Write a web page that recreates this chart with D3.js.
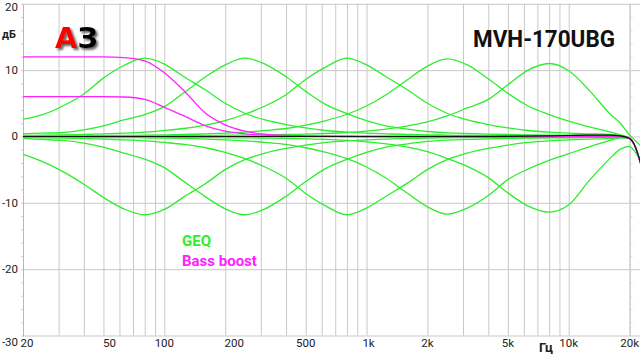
<!DOCTYPE html>
<html><head><meta charset="utf-8">
<script src="https://cdn.jsdelivr.net/npm/d3@7"></script>
<style>html,body{margin:0;padding:0;background:#fff;overflow:hidden}</style>
</head><body>
<script>
// ---------- DATA ----------
const freqs = [20,25,31.5,40,50,63,80,100,125,160,200,250,315,400,500,630,800,1000,1250,1600,2000,2500,3150,4000,5000,6300,8000,10000,12500,16000,18000,20000,21000,22000,22700];

const geqFlat = [0,0,0,0,0,0,0,0,0,0,0,0,0,0,0,0,0,0,0,0,0,0,0,0,0.02,0.05,0.1,0.15,0.2,0.2,0.1,-0.3,-1.1,-2.7,-4.1];
const eq80Boost  = [2.6,3.3,4.6,6.4,8.8,10.7,11.8,10.9,9.0,7.0,5.0,3.5,2.5,1.8,1.3,0.9,0.65,0.5,0.4,0.3,0.25,0.2,0.15,0.15,0.1,0.1,0.1,0.1,0.15,0.15,0.1,-0.3,-1.1,-2.7,-4.1];
const eq80Cut    = [-2.7,-3.8,-5.3,-7.2,-9.2,-10.9,-11.8,-11.0,-9.1,-7.1,-5.0,-3.5,-2.5,-1.8,-1.3,-0.9,-0.65,-0.5,-0.4,-0.3,-0.25,-0.2,-0.15,-0.15,-0.1,-0.1,-0.1,-0.1,-0.05,0,0,-0.3,-1.1,-2.7,-4.1];
const eq250Boost = [0.4,0.5,0.6,1.0,1.6,2.5,3.3,4.5,6.6,9.0,10.8,11.8,10.9,9.0,6.8,4.8,3.45,2.4,1.6,1.1,0.75,0.55,0.45,0.35,0.3,0.25,0.2,0.2,0.2,0.2,0.1,-0.3,-1.1,-2.7,-4.1];
const eq250Cut   = [-0.3,-0.45,-0.6,-1.0,-1.6,-2.5,-3.4,-4.7,-6.8,-9.1,-10.9,-11.8,-10.9,-9.0,-6.8,-4.8,-3.45,-2.4,-1.6,-1.1,-0.75,-0.55,-0.45,-0.35,-0.3,-0.25,-0.2,-0.2,-0.15,-0.1,-0.05,-0.3,-1.1,-2.7,-4.1];
const eq800Boost = [0.15,0.2,0.25,0.3,0.4,0.5,0.65,0.9,1.2,1.7,2.4,3.35,4.6,6.3,8.6,10.5,11.8,10.8,9.0,7.0,5.0,3.5,2.5,1.8,1.3,0.9,0.65,0.5,0.4,0.3,0.15,-0.3,-1.1,-2.7,-4.1];
const eq800Cut   = [-0.15,-0.2,-0.25,-0.3,-0.4,-0.5,-0.65,-0.9,-1.2,-1.7,-2.4,-3.35,-4.6,-6.3,-8.6,-10.5,-11.8,-10.8,-9.0,-7.0,-5.0,-3.5,-2.5,-1.8,-1.3,-0.9,-0.65,-0.5,-0.4,-0.3,-0.15,-0.3,-1.1,-2.7,-4.1];
const eq2500Boost = [0.1,0.1,0.1,0.1,0.15,0.15,0.2,0.25,0.3,0.4,0.5,0.65,0.9,1.2,1.7,2.4,3.35,4.6,6.3,8.6,10.6,11.7,10.8,8.7,6.5,4.6,3.3,2.3,1.5,0.7,0.25,-0.2,-1.1,-2.7,-4.1];
const eq2500Cut   = [-0.1,-0.1,-0.1,-0.1,-0.15,-0.15,-0.2,-0.25,-0.3,-0.4,-0.5,-0.65,-0.9,-1.2,-1.7,-2.4,-3.35,-4.6,-6.3,-8.6,-10.6,-11.7,-10.8,-8.9,-6.5,-4.9,-3.6,-2.6,-1.6,-0.6,-0.2,-0.3,-1.1,-2.7,-4.1];
const eq8000Boost = [0.05,0.05,0.05,0.05,0.1,0.1,0.1,0.1,0.15,0.15,0.2,0.2,0.25,0.3,0.35,0.45,0.6,0.8,1.1,1.6,2.2,3.1,4.3,5.6,7.8,10.0,11.0,9.9,7.1,3.4,2.0,0.2,-0.4,-1.0,-1.4];
const eq8000Cut   = [-0.05,-0.05,-0.05,-0.05,-0.1,-0.1,-0.1,-0.1,-0.15,-0.15,-0.2,-0.2,-0.25,-0.3,-0.35,-0.45,-0.6,-0.8,-1.1,-1.6,-2.3,-3.3,-4.5,-6.2,-8.5,-10.5,-11.4,-10.3,-6.8,-3.3,-1.9,-1.5,-2.1,-3.0,-4.0];
const bassBoost12 = [12.0,12.0,12.0,12.0,12.0,11.9,11.4,9.6,6.9,3.5,1.75,0.8,0.35,0.15,0.1,0.05,0.05,0,0,0,0,0,0,0,0,0,0,0,0,0,0,-0.3,-1.1,-2.7,-4.1];
const bassBoost6  = [6.0,6.0,6.0,6.0,6.0,5.95,5.6,4.4,3.1,1.6,0.8,0.4,0.2,0.1,0.05,0.05,0,0,0,0,0,0,0,0,0,0,0,0,0,0,0,-0.3,-1.1,-2.7,-4.1];
const reference   = [0,0,0,0,0,0,0,0,0,0,0,0,0,0,0,0,0,0,0,0,0,0,0,0,0.02,0.05,0.1,0.15,0.2,0.2,0.1,-0.3,-1.1,-2.7,-4.1];

const gridFreqs = [30,40,50,60,70,80,90,100,200,300,400,500,600,700,800,900,1000,2000,3000,4000,5000,6000,7000,8000,9000,10000,20000];
const xTickVals = [20,50,100,200,500,1000,2000,5000,10000,20000];
const xTickLabels = ["20","50","100","200","500","1k","2k","5k","10k","20k"];
const yTickVals = [20,10,0,-10,-20,-30];
const yTickLabels = ["20","10","0","-10","-20","-30"];

const geqSeries = [geqFlat,eq80Boost,eq80Cut,eq250Boost,eq250Cut,eq800Boost,eq800Cut,eq2500Boost,eq2500Cut,eq8000Boost,eq8000Cut];
const bassSeries = [bassBoost12,bassBoost6];

// ---------- CHART ----------
const W = 640, H = 354;
const GREEN = "#2cee2c", MAGENTA = "#ff22ff";
const svg = d3.select("body").append("svg").attr("width",W).attr("height",H)
  .style("font-family","Roboto, 'DejaVu Sans', sans-serif");
svg.append("rect").attr("width",W).attr("height",H).attr("fill","#fff");

const x = d3.scaleLog().domain([20,20000]).range([23,629.6]);
const y = d3.scaleLinear().domain([-30,20]).range([335.5,3.8]);

// vertical grid
svg.append("g").attr("transform",`translate(0,${y(-30)})`)
  .call(d3.axisBottom(x).tickValues(gridFreqs).tickSize(-(y(-30)-y(20))).tickFormat(""))
  .call(g=>g.select(".domain").remove())
  .call(g=>g.selectAll("line").attr("stroke","#c9c9c9").attr("stroke-width",1));

// horizontal grid
svg.append("g").attr("transform",`translate(${x(20)},0)`)
  .call(d3.axisRight(y).tickValues(yTickVals).tickSize(W-x(20)).tickFormat(""))
  .call(g=>g.select(".domain").remove())
  .call(g=>g.selectAll("line").attr("stroke","#c9c9c9").attr("stroke-width",1));

// left axis line + minor ticks
const minorVals = d3.range(-30,20.01,2);
svg.append("g").attr("transform",`translate(${x(20)},0)`)
  .call(d3.axisLeft(y).tickValues(minorVals).tickSize(2).tickFormat("").tickSizeOuter(0))
  .call(g=>g.select(".domain").attr("stroke","#b8b8b8"))
  .call(g=>g.selectAll("line").attr("stroke","#d0d0d0"));
svg.append("g").attr("transform",`translate(${x(20000)},0)`)
  .call(d3.axisRight(y).tickValues(minorVals).tickSize(3).tickFormat("").tickSizeOuter(0))
  .call(g=>g.select(".domain").attr("stroke","#c9c9c9"))
  .call(g=>g.selectAll("line").attr("stroke","#d8d8d8"));

// y tick labels
svg.append("g").selectAll("text").data(yTickVals).join("text")
  .attr("x",18).attr("text-anchor","end")
  .attr("y",d=> d===20 ? 11 : d===-30 ? 346 : y(d)+4)
  .attr("font-size",11.5).attr("fill","#222")
  .text((d,i)=>yTickLabels[i]);

// x tick labels
const xShift = {"20":4, "50":6, "200":9, "1k":2};
svg.append("g").selectAll("text").data(xTickVals).join("text")
  .attr("x",(d,i)=>x(d)+(xShift[xTickLabels[i]]||0)).attr("y",347)
  .attr("text-anchor","middle").attr("font-size",11.5).attr("fill","#222")
  .text((d,i)=>xTickLabels[i]);

// unit labels
svg.append("text").attr("x",2).attr("y",38).attr("font-size",11).attr("font-weight","bold").attr("fill","#222").text("дБ");
svg.append("text").attr("x",539).attr("y",352).attr("font-size",13).attr("font-weight","bold").attr("fill","#222").text("Гц");

// curves
const line = d3.line().x((d,i)=>x(freqs[i])).y(d=>y(d)).curve(d3.curveMonotoneX);
const plot = svg.append("g");
plot.selectAll("path.geq").data(geqSeries).join("path").attr("class","geq")
  .attr("d",line).attr("fill","none").attr("stroke",GREEN).attr("stroke-width",1.3);
plot.selectAll("path.bass").data(bassSeries).join("path").attr("class","bass")
  .attr("d",line).attr("fill","none").attr("stroke",MAGENTA).attr("stroke-width",1.3);
plot.append("path").datum(reference).attr("d",line).attr("fill","none").attr("stroke","#111").attr("stroke-width",1.15);

// legend
svg.append("text").attr("x",182).attr("y",246).attr("font-size",15).attr("font-weight","bold").attr("fill",GREEN).text("GEQ");
svg.append("text").attr("x",182).attr("y",265.5).attr("font-size",15).attr("font-weight","bold").attr("fill",MAGENTA).text("Bass boost");

// title
svg.append("text").attr("x",473).attr("y",47).attr("font-size",23).attr("font-weight","bold")
  .attr("fill","#111").attr("textLength",142).attr("lengthAdjust","spacingAndGlyphs").text("MVH-170UBG");

// logo
const defs = svg.append("defs");
const f = defs.append("filter").attr("id","sh").attr("x","-30%").attr("y","-30%").attr("width","170%").attr("height","170%");
f.append("feGaussianBlur").attr("in","SourceAlpha").attr("stdDeviation",1.3).attr("result","bl");
f.append("feOffset").attr("in","bl").attr("dx",2).attr("dy",2).attr("result","of");
f.append("feFlood").attr("flood-color","#666").attr("result","fl");
f.append("feComposite").attr("in","fl").attr("in2","of").attr("operator","in").attr("result","sh");
const m = f.append("feMerge"); m.append("feMergeNode").attr("in","sh"); m.append("feMergeNode").attr("in","SourceGraphic");
const logo = svg.append("text").attr("x",55).attr("y",48).attr("filter","url(#sh)")
  .attr("font-family","'DejaVu Sans', sans-serif").attr("font-weight","bold").attr("font-size",29);
logo.append("tspan").attr("fill","#ff0000").text("А");
logo.append("tspan").attr("fill","#000").text("З");
</script>
</body></html>
